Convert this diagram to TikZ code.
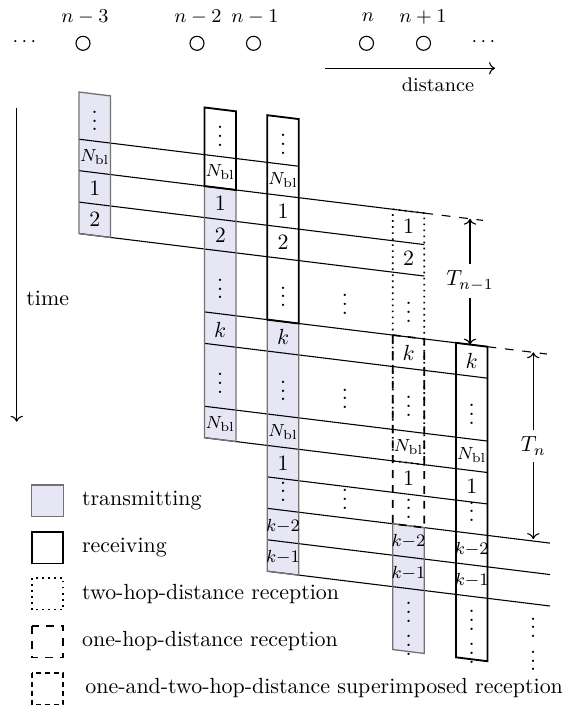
\documentclass[tikz,border=0pt]{standalone}
\usetikzlibrary{arrows.meta}
\definecolor{lav}{RGB}{230,230,245}
\tikzset{
  prop/.style={line width=0.5pt},
  txbox/.style={draw=black!55, line width=0.6pt},
  rxbox/.style={draw=black, line width=0.85pt},
  twohop/.style={draw=black, line width=0.75pt, dotted},
  onehop/.style={draw=black, line width=0.75pt, dash pattern=on 3.6pt off 3.2pt},
  suphop/.style={draw=black, line width=0.75pt, dash pattern=on 2.3pt off 1.8pt},
  celltxt/.style={inner sep=0pt},
  extdash/.style={line width=0.5pt, dash pattern=on 4pt off 4pt},
  nodecirc/.style={circle, draw, line width=0.5pt, minimum size=6.4pt, inner sep=0pt},
  tlab/.style={fill=white, inner sep=3pt},
}
% column box: style, left x, m1, m2
\newcommand\cbox[4]{%
  \path[#1] ({#2},{slant(#2,#3)}) -- ({#2+31.5},{slant(#2+31.5,#3)}) -- ({#2+31.5},{slant(#2+31.5,#4)}) -- ({#2},{slant(#2,#4)}) -- cycle;}
% propagation line: [opt], x start, x end, m
\newcommand\pl[4][]{\draw[prop,#1] ({#2},{slant(#2,#4)}) -- ({#3},{slant(#3,#4)});}
% cell label: name, left x, m, text
\newcommand\cl[4]{\node[celltxt] (#1) at ({#2+15.75},{slant(#2+15.75,#3)}) {#4};}
\newcommand\Nb{\footnotesize$N_{\mathrm{bl}}$}
\newcommand\kmin[1]{\footnotesize$k{-}#1$}
\begin{document}
\begin{tikzpicture}[x=0.4566pt,y=-0.4566pt,
  declare function={slant(\x,\m)=129.5+31.45*\m+0.123*\x;}]
\useasboundingbox (0,0) rectangle (580,707);

% transmitting fills
\cbox{fill=lav}{79}{-1.5}{3}
\cbox{fill=lav}{204.5}{1}{9}
\cbox{fill=lav}{267.3}{5}{13}
\cbox{fill=lav}{392.8}{11}{15}

% propagation lines
\pl{79}{299}{0}
\pl{79}{424.3}{1}
\pl[extdash]{424.3}{483}{1}
\pl{79}{424.3}{2}
\pl{79}{424.3}{3}
\pl{204.5}{487.5}{5}
\pl[extdash]{487.5}{547}{5}
\pl{204.5}{487.5}{6}
\pl{204.5}{487.5}{8}
\pl{204.5}{487.5}{9}
\pl{267.3}{487.5}{10}
\pl{267.3}{550}{11}
\pl{267.3}{550}{12}
\pl{267.3}{550}{13}

% borders
\cbox{txbox}{79}{-1.5}{3}
\cbox{txbox}{204.5}{1}{9}
\cbox{txbox}{267.3}{5}{13}
\cbox{txbox}{392.8}{11}{15}
\cbox{rxbox}{204.5}{-1.5}{1}
\cbox{rxbox}{267.3}{-1.5}{5}
\cbox{rxbox}{456}{5}{15}
\cbox{twohop}{392.8}{1}{9}
\cbox{onehop}{392.8}{5}{11}

% column A
\cl{a0}{79}{-0.85}{$\vdots$}
\cl{a1}{79}{0.5}{\Nb}
\cl{a2}{79}{1.5}{$1$}
\cl{a3}{79}{2.5}{$2$}
% column B
\cl{b0}{204.5}{-0.85}{$\vdots$}
\cl{b1}{204.5}{0.5}{\Nb}
\cl{b2}{204.5}{1.5}{$1$}
\cl{b3}{204.5}{2.5}{$2$}
\cl{b4}{204.5}{4}{$\vdots$}
\cl{b5}{204.5}{5.5}{$k$}
\cl{b6}{204.5}{7}{$\vdots$}
\cl{b7}{204.5}{8.5}{\Nb}
% column C
\cl{c0}{267.3}{-0.85}{$\vdots$}
\cl{c1}{267.3}{0.5}{\Nb}
\cl{c2}{267.3}{1.5}{$1$}
\cl{c3}{267.3}{2.5}{$2$}
\cl{c4}{267.3}{4}{$\vdots$}
\cl{c5}{267.3}{5.5}{$k$}
\cl{c6}{267.3}{7}{$\vdots$}
\cl{c7}{267.3}{8.5}{\Nb}
\cl{c8}{267.3}{9.5}{$1$}
\cl{c9}{267.3}{10.2}{$\vdots$}
\cl{c10}{267.3}{11.5}{\kmin{2}}
\cl{c11}{267.3}{12.5}{\kmin{1}}
% column D
\cl{d2}{392.8}{1.5}{$1$}
\cl{d3}{392.8}{2.5}{$2$}
\cl{d4}{392.8}{4}{$\vdots$}
\cl{d5}{392.8}{5.5}{$k$}
\cl{d6}{392.8}{7}{$\vdots$}
\cl{d7}{392.8}{8.5}{\Nb}
\cl{d8}{392.8}{9.5}{$1$}
\cl{d9}{392.8}{10.25}{$\vdots$}
\cl{d10}{392.8}{11.5}{\kmin{2}}
\cl{d11}{392.8}{12.5}{\kmin{1}}
\cl{d12}{392.8}{13.55}{$\vdots$}
\cl{d13}{392.8}{14.6}{$\vdots$}
% column E
\cl{e5}{456}{5.5}{$k$}
\cl{e6}{456}{7}{$\vdots$}
\cl{e7}{456}{8.5}{\Nb}
\cl{e8}{456}{9.5}{$1$}
\cl{e9}{456}{10.1}{$\vdots$}
\cl{e10}{456}{11.5}{\kmin{2}}
\cl{e11}{456}{12.5}{\kmin{1}}
\cl{e12}{456}{13.55}{$\vdots$}
\cl{e13}{456}{14.6}{$\vdots$}
% free dots
\cl{m1}{329.25}{4}{$\vdots$}
\cl{m2}{329.25}{7}{$\vdots$}
\cl{m3}{329.25}{10.2}{$\vdots$}
\cl{r1}{517.5}{13.55}{$\vdots$}
\cl{r2}{517.5}{14.6}{$\vdots$}

% durations
\coordinate (Ta) at (470,{slant(470,1)});
\coordinate (Tb) at (470,{slant(470,5)});
\node[tlab] (T1) at (470,281) {$T_{n-1}$};
\draw[prop,->] (T1) -- (Ta);
\draw[prop,->] (T1) -- (Tb);
\coordinate (Tc) at (533.3,{slant(533.3,5)});
\coordinate (Td) at (533.3,{slant(533.3,11)-2});
\node[tlab] (T2) at (533.3,446) {$T_{n}$};
\draw[prop,->] (T2) -- (Tc);
\draw[prop,->] (T2) -- (Td);

% node row
\node (l3) at (85,17) {\small$n-3$};
\node (l2) at (198,17) {\small$n-2$};
\node (l1) at (255,17) {\small$n-1$};
\node (l0) at (368,17) {\small$n$};
\node (lp) at (423,17) {\small$n+1$};
\node[nodecirc] (c3) at (83,43.3) {};
\node[nodecirc] (c2) at (197,43.3) {};
\node[nodecirc] (c1) at (253.5,43.3) {};
\node[nodecirc] (c0) at (366.5,43.3) {};
\node[nodecirc] (cp) at (423.5,43.3) {};
\node (dl) at (24.5,42) {\small$\cdots$};
\node (dr) at (483.5,42) {\small$\cdots$};
\coordinate (da) at (325,68.3);
\coordinate (db) at (495,68.3);
\draw[prop,->] (da) -- (db);
\node (dist) at (438,85) {\small distance};

% time axis
\coordinate (ta) at (16.7,108);
\coordinate (tb) at (16.7,421.7);
\draw[prop,->] (ta) -- (tb);
\node (time) at (47.7,298) {time};

% legend
\draw[txbox, fill=lav] (31.7,485) rectangle (63.3,516.6);
\draw[rxbox] (31.7,532) rectangle (63.3,563.5);
\draw[twohop] (31.7,578) rectangle (63.3,609.6);
\draw[onehop] (31.7,626) rectangle (63.3,657.6);
\draw[suphop] (31.7,673) rectangle (63.3,704.5);
\node[anchor=west, inner sep=0pt] (g1) at (81.7,500.5) {transmitting};
\node[anchor=west, inner sep=0pt] (g2) at (81.7,547.5) {receiving};
\node[anchor=west, inner sep=0pt] (g3) at (81.7,594) {two-hop-distance reception};
\node[anchor=west, inner sep=0pt] (g4) at (81.7,641.5) {one-hop-distance reception};
\node[anchor=west, inner sep=0pt] (g5) at (85,688.5) {one-and-two-hop-distance superimposed reception};
\end{tikzpicture}
\end{document}
